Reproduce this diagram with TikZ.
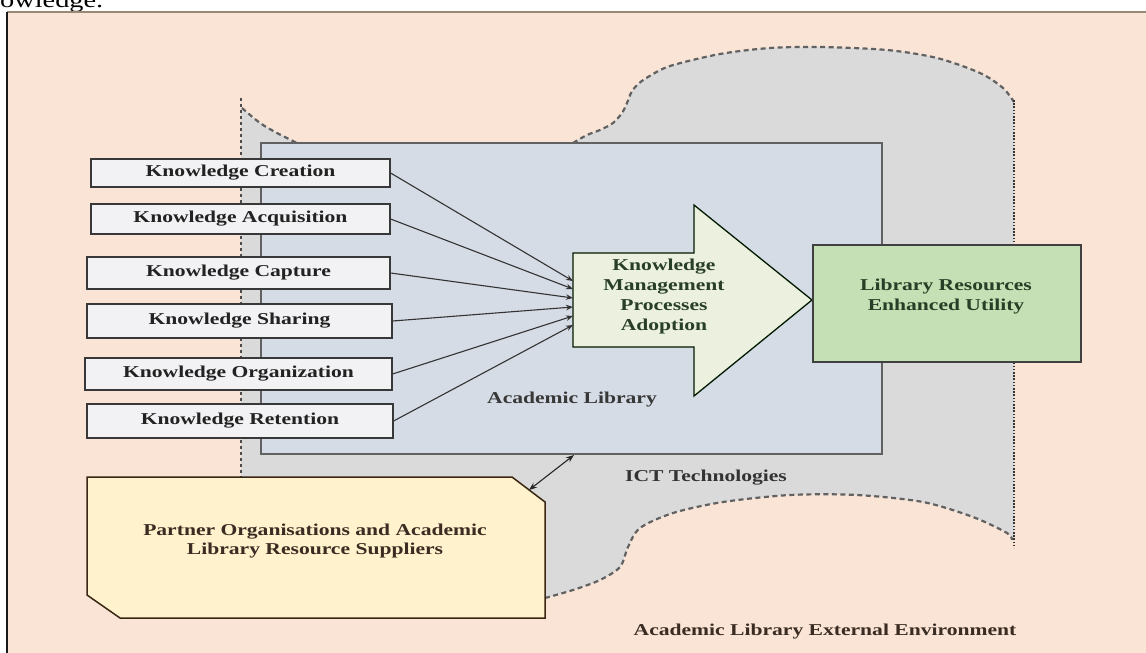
\documentclass[tikz,border=0pt]{standalone}
\usepackage{fontspec}
\setmainfont[FakeStretch=1.3]{Liberation Serif}
\usetikzlibrary{arrows.meta}

\definecolor{peach}{RGB}{250,228,214}
\definecolor{cloudgray}{RGB}{218,218,218}
\definecolor{libfill}{RGB}{214,220,229}
\definecolor{kmfill}{RGB}{235,241,222}
\definecolor{resfill}{RGB}{197,224,180}
\definecolor{partnerfill}{RGB}{255,242,204}
\definecolor{kfill}{RGB}{242,242,244}
\definecolor{inkdark}{RGB}{34,34,34}
\definecolor{inkgreen}{RGB}{40,62,38}
\definecolor{inkbrown}{RGB}{58,44,34}

\tikzset{
  lbl/.style={font=\fontsize{16.6}{20}\selectfont\bfseries, text=inkdark, inner sep=0pt, align=center},
  kbox/.style={lbl, draw=black!78, line width=1.2pt, fill=kfill},
  conn/.style={draw=black!80, line width=1.1pt, -{Stealth[length=7pt,width=5.5pt]}},
  dbl/.style={draw=black!85, line width=1.1pt, {Stealth[length=8pt,width=6pt]}-{Stealth[length=8pt,width=6pt]}},
  cloudline/.style={draw=black!62, line width=2.2pt, dash pattern=on 5pt off 3.5pt},
  finedash/.style={draw=black!70, line width=1.1pt, dash pattern=on 3pt off 3pt},
  dotline/.style={draw=black!80, line width=2.4pt, dash pattern=on 1.6pt off 1.6pt},
}

\begin{document}
\begin{tikzpicture}[x=1pt,y=-1pt]
\clip (0,0) rectangle (1146,653);
\fill[white] (0,0) rectangle (1146,653);

% page fragment above the frame
\node[anchor=base west, font=\fontsize{21.8}{24}\selectfont, inner sep=0pt] (cap) at (0,8) {owledge.};

% framed background
\fill[peach] (7,12) rectangle (1146,653);
\draw[draw=brown!45!black!60, line width=1.5pt] (7,12) -- (1146,12);
\draw[draw=black!90, line width=2pt] (7,12) -- (7,653);

% ICT cloud
\fill[cloudgray] (241,100) -- (241,610) -- (545,610)
  -- plot[smooth] coordinates {(545,598) (573,590) (600,580) (620,567) (628,547) (640,528) (673,513) (723,502) (790,495) (857,495) (923,502) (973,517) (1007,533) (1014,540)}
  -- (1014,102)
  -- plot[smooth] coordinates {(1014,102) (1003,88) (980,73) (937,58) (887,50) (820,47) (770,48) (720,54) (670,66) (648,77) (637,85) (631,93) (627,103) (622,113) (613,123) (600,130) (587,135) (573,143)}
  -- (430,170) -- (297,143)
  -- plot[smooth] coordinates {(297,143) (277,133) (260,123) (242,108)} -- cycle;
\draw[finedash] (241,98) -- (241,477);
\draw[cloudline] plot[smooth] coordinates {(242,108) (260,123) (277,133) (297,143)};
\draw[cloudline] plot[smooth] coordinates {(573,143) (587,135) (600,130) (613,123) (622,113) (627,103) (631,93) (637,85) (648,77) (670,66) (720,54) (770,48) (820,47) (887,50) (937,58) (980,73) (1003,88) (1014,102)};
\draw[dotline] (1014,100) -- (1014,548);
\draw[cloudline] plot[smooth] coordinates {(545,598) (573,590) (600,580) (620,567) (628,547) (640,528) (673,513) (723,502) (790,495) (857,495) (923,502) (973,517) (1007,533) (1012,540)};

% academic library
\node[draw=black!62, line width=2pt, fill=libfill, minimum width=621pt, minimum height=311pt, inner sep=0pt] (lib) at (571.5,298.5) {};
\node[lbl, text=black!78] (liblabel) at (572,400) {Academic Library};
\node[lbl, text=black!80] (ict) at (706,478) {ICT Technologies};
\node[lbl, text=inkbrown] (ext) at (825,632) {Academic Library External Environment};

% partner organisations
\fill[partnerfill, draw=black!70!brown, line width=1.5pt] (87,477) -- (512,477) -- (545,502) -- (545,618) -- (120,618) -- (87,595) -- cycle;
\node[lbl, text=inkbrown, font=\fontsize{16.6}{19}\selectfont\bfseries] (partner) at (315,541) {Partner Organisations and Academic\\Library Resource Suppliers};
\coordinate (pcorner) at (529,490);
\coordinate (libfoot) at (574,455);
\draw[dbl] (pcorner) -- (libfoot);

% knowledge processes
\node[kbox, minimum width=299pt, minimum height=28pt] (k1) at (240.5,173) {Knowledge Creation};
\node[kbox, minimum width=299pt, minimum height=30pt] (k2) at (240.5,219) {Knowledge Acquisition};
\node[kbox, minimum width=303pt, minimum height=32pt] (k3) at (238.5,273) {Knowledge Capture};
\node[kbox, minimum width=305pt, minimum height=34pt] (k4) at (239.5,321) {Knowledge Sharing};
\node[kbox, minimum width=307pt, minimum height=32pt] (k5) at (238.5,374) {Knowledge Organization};
\node[kbox, minimum width=306pt, minimum height=34pt] (k6) at (240,421) {Knowledge Retention};

% knowledge management block arrow
\fill[kmfill, draw=black!75!green!40!black, line width=1.3pt, line join=miter]
  (573,253) -- (694,253) -- (694,205) -- (812,300) -- (694,396) -- (694,347) -- (573,347) -- cycle;
\node[lbl, text=inkgreen] (kmp) at (664,297) {Knowledge\\Management\\Processes\\Adoption};
\coordinate (t1) at (573,281);
\coordinate (t2) at (573,289);
\coordinate (t3) at (573,298);
\coordinate (t4) at (573,307);
\coordinate (t5) at (573,316);
\coordinate (t6) at (573,325);
\draw[conn] (k1.east) -- (t1);
\draw[conn] (k2.east) -- (t2);
\draw[conn] (k3.east) -- (t3);
\draw[conn] (k4.east) -- (t4);
\draw[conn] (k5.east) -- (t5);
\draw[conn] (k6.east) -- (t6);

% enhanced utility
\node[draw=black!75, line width=2pt, fill=resfill, minimum width=268pt, minimum height=117pt, inner sep=0pt] (res) at (947,303.5) {};
\node[lbl, text=inkgreen] (restext) at (946,297) {Library Resources\\Enhanced Utility};
\end{tikzpicture}
\end{document}
